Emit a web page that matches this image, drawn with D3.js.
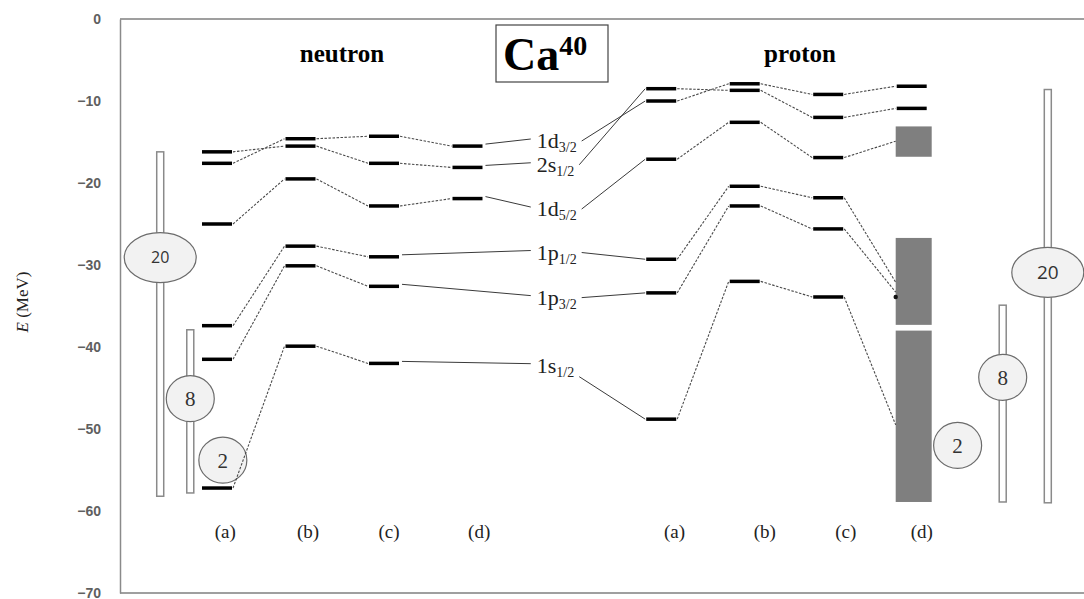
<!DOCTYPE html>
<html>
<head>
<meta charset="utf-8">
<script src="https://cdn.jsdelivr.net/npm/d3@7/dist/d3.min.js"></script>
<style>
  body { margin: 0; background: #fff; }
  svg { display: block; }
</style>
</head>
<body>
<div id="chart"></div>
<script>
// axis ticks (MeV)
const yTicks = [0, -10, -20, -30, -40, -50, -60, -70]

// columns: neutron (a)-(d), proton (a)-(d)
const colNames = ["(a)", "(b)", "(c)", "(d)", "(a)", "(b)", "(c)", "(d)"]
const colPos = [1, 2, 3, 4, 6.32, 7.32, 8.32, 9.32]
const colLabelPos = [1.1, 2.09, 3.06, 4.14, 6.48, 7.56, 8.53, 9.44]

// orbital labels
const orbitalMain = ["1d", "2s", "1d", "1p", "1p", "1s"]
const orbitalSub = ["3/2", "1/2", "5/2", "1/2", "3/2", "1/2"]
const orbitalLabelE = [-15.0, -17.9, -23.3, -28.6, -34.1, -42.4]

// neutron single-particle energies, columns (a)..(d)
const n_1d32 = [-17.6, -14.6, -14.3, -15.5]
const n_2s12 = [-16.2, -15.5, -17.6, -18.1]
const n_1d52 = [-25.0, -19.5, -22.8, -21.9]
const n_1p12 = [-37.4, -27.7, -29.0, null]
const n_1p32 = [-41.5, -30.1, -32.6, null]
const n_1s12 = [-57.2, -39.9, -42.0, null]

// proton single-particle energies, columns (a)..(d)
const p_1d32 = [-10.0, -7.9, -9.2, -8.2]
const p_2s12 = [-8.5, -8.7, -12.0, -10.9]
const p_1d52 = [-17.1, -12.6, -16.9, -14.9]
const p_1p12 = [-29.3, -20.4, -21.8, -32.1]
const p_1p32 = [-33.4, -22.8, -25.6, -33.3]
const p_1s12 = [-48.8, -32.0, -33.9, -49.5]
// does proton (d) have a sharp level (true) or land on a band (false)
const p_dSharp = [true, true, false, false, false, false]

// proton (d) bands [top, bottom]
const protonBands = [[-13.1, -16.8], [-26.7, -37.3], [-38.0, -58.9]]
const protonDot = -33.9

// magic-number markers
const magicText = ["20", "8", "2", "2", "8", "20"]
const magicPos = [0.32, 0.68, 1.07, 9.87, 10.41, 10.95]
const magicE = [-29.1, -46.3, -53.8, -52.0, -43.7, -30.9]
const magicTop = [-16.2, -37.9, null, null, -34.9, -8.6]
const magicBottom = [-58.2, -57.8, null, null, -58.9, -59.0]

const neutronSeries = [n_1d32, n_2s12, n_1d52, n_1p12, n_1p32, n_1s12]
const protonSeries = [p_1d32, p_2s12, p_1d52, p_1p12, p_1p32, p_1s12]

const W = 1084, H = 599
const HALF = 15

const svg = d3.select("#chart").append("svg")
  .attr("width", W)
  .attr("height", H)
  .style("font-family", "'Liberation Serif', 'Times New Roman', serif")

const x = d3.scaleLinear().domain([1, 9.32]).range([217, 911.7])
const y = d3.scaleLinear().domain([0, -70]).range([19, 593])

// frame
const left = 120
svg.append("line").attr("x1", left).attr("x2", W).attr("y1", y(0)).attr("y2", y(0))
  .attr("stroke", "#7f7f7f").attr("stroke-width", 1.5)
svg.append("line").attr("x1", left).attr("x2", W).attr("y1", y(-70)).attr("y2", y(-70))
  .attr("stroke", "#7f7f7f").attr("stroke-width", 1.5)

const yAxis = svg.append("g")
  .attr("transform", `translate(${left},0)`)
  .call(d3.axisLeft(y).tickValues(yTicks).tickSize(0).tickPadding(19))
yAxis.select(".domain").attr("stroke", "#8a8a8a").attr("stroke-width", 1.5)
yAxis.selectAll("text")
  .style("font-family", "'Liberation Sans', Arial, sans-serif")
  .style("font-size", "14px")
  .style("font-weight", "bold")
  .attr("fill", "#5f5f5f")

const ylab = svg.append("text")
  .attr("transform", "translate(28,302) rotate(-90)")
  .attr("text-anchor", "middle")
  .style("font-size", "17px")
  .attr("fill", "#222")
ylab.append("tspan").style("font-style", "italic").text("E")
ylab.append("tspan").text(" (MeV)")

// title box
svg.append("rect").attr("x", 496).attr("y", 25).attr("width", 112).attr("height", 57)
  .attr("fill", "#fff").attr("stroke", "#444").attr("stroke-width", 1.2)
const title = svg.append("text").attr("x", 503).attr("y", 70)
  .style("font-weight", "bold").attr("fill", "#000")
title.append("tspan").style("font-size", "46px").text("Ca")
title.append("tspan").attr("dy", -15).style("font-size", "28px").text("40")

svg.append("text").attr("x", 342).attr("y", 62).attr("text-anchor", "middle")
  .style("font-size", "25px").style("font-weight", "bold").text("neutron")
svg.append("text").attr("x", 800).attr("y", 62).attr("text-anchor", "middle")
  .style("font-size", "25px").style("font-weight", "bold").text("proton")

// column labels
svg.append("g").selectAll("text")
  .data(colNames)
  .join("text")
    .attr("x", (d, i) => x(colLabelPos[i]))
    .attr("y", 538)
    .attr("text-anchor", "middle")
    .style("font-size", "19px")
    .attr("fill", "#222")
    .text(d => d)

// magic-number markers
const mg = svg.append("g")
magicText.forEach((t, i) => {
  const cx = x(magicPos[i])
  if (magicTop[i] !== null) {
    mg.append("rect")
      .attr("x", cx - 3.5).attr("width", 7)
      .attr("y", y(magicTop[i])).attr("height", y(magicBottom[i]) - y(magicTop[i]))
      .attr("fill", "#fff").attr("stroke", "#8a8a8a").attr("stroke-width", 1.5)
  }
  const big = t.length > 1
  mg.append("ellipse")
    .attr("cx", cx).attr("cy", y(magicE[i]))
    .attr("rx", big ? 36 : 24).attr("ry", big ? 25 : 23)
    .attr("fill", "#f2f2f2").attr("stroke", "#6b6b6b").attr("stroke-width", 1.2)
  mg.append("text")
    .attr("x", cx).attr("y", y(magicE[i]))
    .attr("dy", "0.35em")
    .attr("text-anchor", "middle")
    .style("font-family", big ? "'Open Sans', 'Liberation Sans', sans-serif" : "'Liberation Serif', serif")
    .style("font-size", big ? (i < 3 ? "16px" : "19px") : "21px")
    .attr("fill", "#333")
    .text(t)
})

// proton (d) bands
svg.append("g").selectAll("rect")
  .data(protonBands)
  .join("rect")
    .attr("x", x(colPos[7]) - 16)
    .attr("width", 36)
    .attr("y", d => y(d[0]))
    .attr("height", d => y(d[1]) - y(d[0]))
    .attr("fill", "#7f7f7f")

// orbital labels
const labelX = x(4.83)
const labels = svg.append("g").selectAll("text")
  .data(orbitalMain)
  .join("text")
    .attr("x", labelX)
    .attr("y", (d, i) => y(orbitalLabelE[i]) + 6)
    .style("font-size", "22px")
    .attr("fill", "#222")
labels.append("tspan").text(d => d)
labels.append("tspan").attr("dy", 4).style("font-size", "14px").text((d, i) => orbitalSub[i])

const labelRight = labels.nodes().map(n => { const b = n.getBBox(); return b.x + b.width })

const conn = svg.append("g")
const dashed = (x1, y1, x2, y2) => conn.append("line")
  .attr("x1", x1).attr("y1", y1).attr("x2", x2).attr("y2", y2)
  .attr("stroke", "#4a4a4a").attr("stroke-width", 1.1).attr("stroke-dasharray", "2.5,1.5")
const solid = (x1, y1, x2, y2) => conn.append("line")
  .attr("x1", x1).attr("y1", y1).attr("x2", x2).attr("y2", y2)
  .attr("stroke", "#3a3a3a").attr("stroke-width", 1)

const bars = svg.append("g")
const bar = (c, e) => bars.append("line")
  .attr("x1", x(c) - HALF).attr("x2", x(c) + HALF)
  .attr("y1", y(e)).attr("y2", y(e))
  .attr("stroke", "#000").attr("stroke-width", 3.5)

// neutron chains
neutronSeries.forEach((vals, k) => {
  const pts = vals.map((e, i) => ({ c: colPos[i], e })).filter(p => p.e !== null)
  pts.forEach(p => bar(p.c, p.e))
  for (let i = 0; i < pts.length - 1; i++) {
    dashed(x(pts[i].c) + HALF + 1, y(pts[i].e), x(pts[i + 1].c) - HALF - 1, y(pts[i + 1].e))
  }
  const last = pts[pts.length - 1]
  solid(x(last.c) + HALF + 3, y(last.e) - 2, labelX - 6, y(orbitalLabelE[k]) - 3)
})

// proton chains
protonSeries.forEach((vals, k) => {
  const pts = vals.map((e, i) => ({ c: colPos[i + 4], e, sharp: i < 3 || p_dSharp[k] }))
  pts.forEach(p => { if (p.sharp) bar(p.c, p.e) })
  const first = pts[0]
  const ly = y(orbitalLabelE[k]) + (k === 5 ? 10 : -1)
  solid(labelRight[k] + 5, ly, x(first.c) - HALF - 1, y(first.e))
  for (let i = 0; i < pts.length - 1; i++) {
    const nx = pts[i + 1].sharp ? x(pts[i + 1].c) - HALF - 1 : x(pts[i + 1].c) - 16
    dashed(x(pts[i].c) + HALF + 1, y(pts[i].e), nx, y(pts[i + 1].e))
  }
})

svg.append("circle")
  .attr("cx", x(colPos[7]) - 16).attr("cy", y(protonDot)).attr("r", 2.2)
  .attr("fill", "#111")
</script>
</body>
</html>
